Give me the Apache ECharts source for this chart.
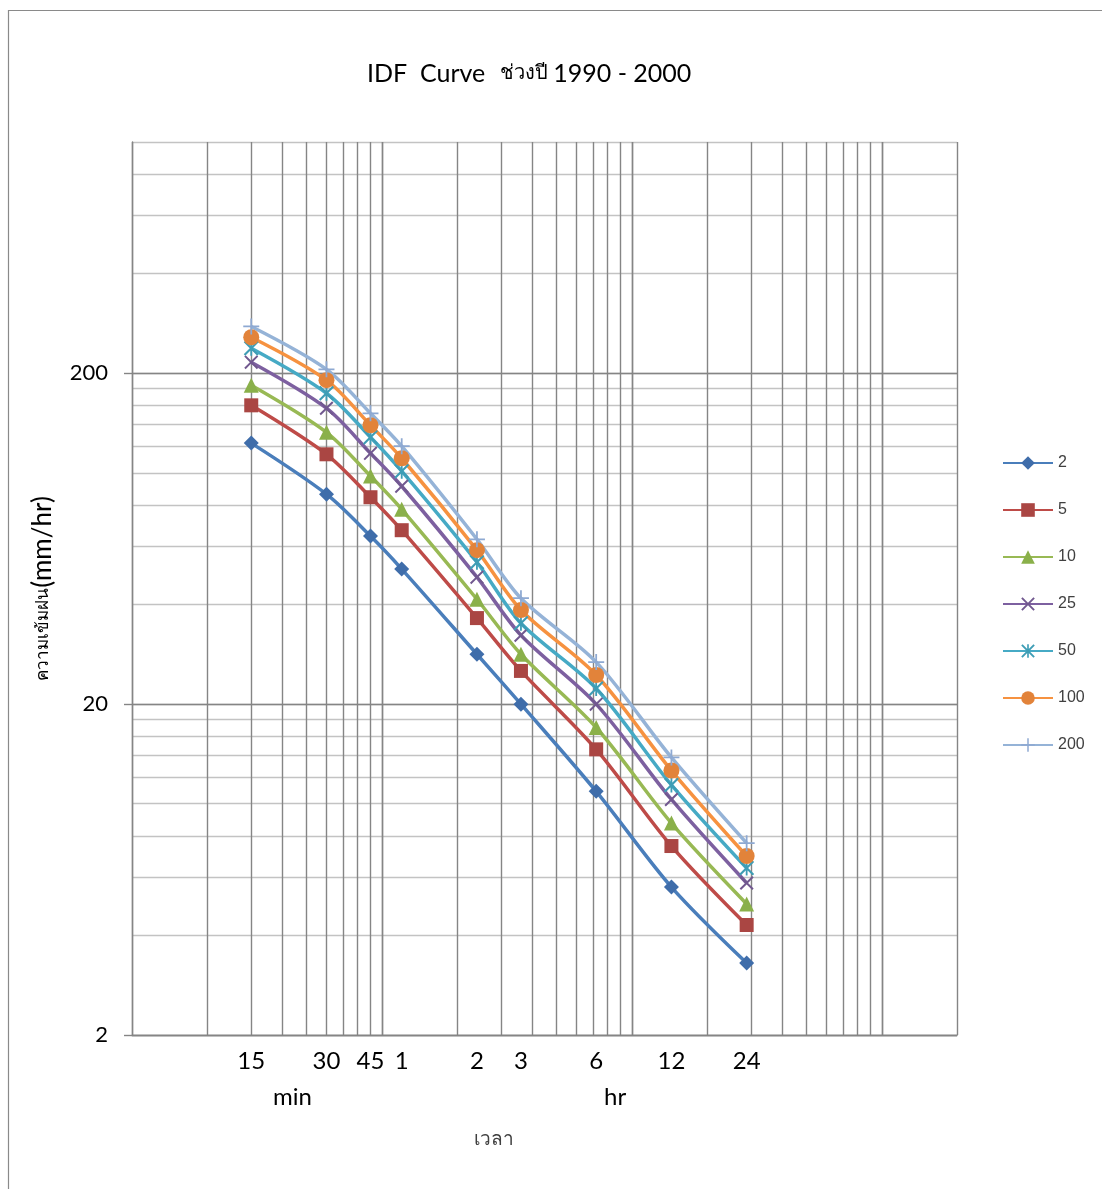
<!DOCTYPE html>
<html>
<head>
<meta charset="utf-8">
<script src="https://cdn.jsdelivr.net/npm/echarts@6/dist/echarts.min.js"></script>
<style>
  html, body { margin: 0; padding: 0; background: #fff; }
  #chart { width: 1102px; height: 1189px; }
</style>
</head>
<body>
<div id="chart"></div>
<script>
// duration in minutes (x), intensity mm/hr (y) per return period
var durations = [15, 30, 45, 60, 120, 180, 360, 720, 1440];
var durationLabels = ['15', '30', '45', '1', '2', '3', '6', '12', '24'];
var returnPeriods = ['2', '5', '10', '25', '50', '100', '200'];

var t2   = [123, 86.2, 64.4, 51.2, 28.3, 20.0, 10.9, 5.6, 3.3];
var t5   = [160, 113.8, 84.4, 67.1, 36.4, 25.2, 14.6, 7.45, 4.3];
var t10  = [184, 132.6, 97.8, 77.6, 41.5, 28.3, 17.0, 8.74, 4.98];
var t25  = [216, 156.8, 114.6, 91.1, 48.4, 32.3, 20.0, 10.3, 5.76];
var t50  = [238, 174, 128.2, 101.2, 53.7, 35.1, 22.3, 11.4, 6.39];
var t100 = [257, 190.6, 139.3, 110.7, 58.4, 38.5, 24.5, 12.6, 6.95];
var t200 = [277, 205.6, 151.4, 120.4, 63, 41.8, 26.8, 13.8, 7.6];

var yMajorTicks = [2, 20, 200];

// grid lines: x at every 5*10^k step, y at every 2*10^k step
var xGrid = [];
[5, 50, 500, 5000].forEach(function (b) {
  for (var i = 1; i <= 10; i++) { if (b * i <= 10000) xGrid.push(b * i); }
});
var yGrid = [];
[2, 20, 200].forEach(function (b) {
  for (var i = 1; i <= 9; i++) { yGrid.push(b * i); }
});
yGrid = yGrid.filter(function (v) { return v <= 1000; });

var lineColors   = ['#4A7EBB', '#BE4B48', '#98B954', '#7D60A0', '#46AAC5', '#F69240', '#95B3D7'];
var markerColors = ['#3F6DAA', '#AA4643', '#8AB04A', '#71588F', '#3E9DB5', '#E2833A', '#8EA9D2'];
var symbols = [
  'diamond', 'rect', 'triangle',
  'path://M0,1 L1,0 L5,4 L9,0 L10,1 L6,5 L10,9 L9,10 L5,6 L1,10 L0,9 L4,5 Z',
  'path://M0,1 L1,0 L5,4 L9,0 L10,1 L6,5 L10,9 L9,10 L5,6 L1,10 L0,9 L4,5 Z M4.4,0 L5.6,0 L5.6,10 L4.4,10 Z',
  'circle',
  'path://M4.45,0 L5.55,0 L5.55,4.45 L10,4.45 L10,5.55 L5.55,5.55 L5.55,10 L4.45,10 L4.45,5.55 L0,5.55 L0,4.45 L4.45,4.45 Z'
];
var symbolSizes = [15, 14, 15, 14, 15, 16, 16];
var allSeries = [t2, t5, t10, t25, t50, t100, t200];

var chart = echarts.init(document.getElementById('chart'));

var series = allSeries.map(function (vals, i) {
  return {
    name: returnPeriods[i],
    type: 'line',
    xAxisIndex: 0,
    yAxisIndex: 1,
    smooth: 0.3,
    symbol: symbols[i],
    symbolSize: symbolSizes[i],
    lineStyle: { width: 3.5, color: lineColors[i] },
    itemStyle: { color: markerColors[i] },
    data: durations.map(function (d, j) { return [d, vals[j]]; })
  };
});

var option = {
  backgroundColor: '#fff',
  animation: false,
  graphic: [
    { type: 'rect', shape: { x: 8.5, y: 10.5, width: 1200, height: 1300 },
      style: { fill: null, stroke: '#8a8a8a', lineWidth: 1.2 }, silent: true },
    { type: 'text', left: 273, top: 1085,
      style: { text: 'min', font: '24px Lato', fill: '#000' } },
    { type: 'text', left: 604, top: 1085,
      style: { text: 'hr', font: '24px Lato', fill: '#000' } },
    { type: 'text', left: 474, top: 1130,
      style: { text: 'เวลา', font: '19px sans-serif', fill: '#404040' } }
  ],
  title: {
    text: '{a|IDF  Curve}   {b|ช่วงปี} {a|1990 - 2000}',
    left: 362,
    top: 56,
    textStyle: {
      fontWeight: 'normal',
      rich: {
        a: { fontFamily: 'Lato', fontSize: 25, fontWeight: 'normal', color: '#000' },
        b: { fontSize: 20, fontWeight: 'normal', color: '#000' }
      }
    }
  },
  legend: {
    orient: 'vertical',
    left: 997,
    top: 450,
    itemWidth: 50,
    itemHeight: 17,
    itemGap: 31,
    textStyle: { fontFamily: 'Liberation Sans', fontSize: 16, color: '#404040' },
    data: returnPeriods
  },
  grid: { left: 132, right: 145, top: 142, bottom: 154, containLabel: false },
  xAxis: [{
    type: 'log',
    min: 5,
    max: 10000,
    axisLine: { show: true, lineStyle: { color: '#858585', width: 1.4 } },
    axisTick: { show: false, customValues: xGrid },
    splitLine: { show: true, lineStyle: { color: '#858585', width: 1.4 } },
    axisLabel: {
      customValues: durations,
      margin: 14,
      fontFamily: 'Lato',
      fontSize: 24,
      color: '#000',
      formatter: function (v) {
        var k = durations.indexOf(Math.round(v));
        return k >= 0 ? durationLabels[k] : '';
      }
    }
  }],
  yAxis: [{
    type: 'log',
    position: 'left',
    offset: 0,
    min: 2,
    max: 1000,
    axisLine: { show: false },
    axisTick: { show: false, customValues: yGrid },
    axisLabel: { show: false },
    splitLine: { show: true, lineStyle: { color: '#c3c3c3', width: 1.4 } }
  }, {
    type: 'log',
    position: 'left',
    offset: 0,
    min: 2,
    max: 1000,
    name: '{t|ความเข้มฝน}{l|(mm/hr)}',
    nameLocation: 'middle',
    nameGap: 76,
    nameRotate: 90,
    nameTextStyle: {
      rich: {
        t: { fontSize: 17, color: '#000' },
        l: { fontFamily: 'Lato', fontSize: 26, color: '#000' }
      }
    },
    axisLine: { show: true, lineStyle: { color: '#858585', width: 1.4 } },
    axisTick: { show: true, length: 8, customValues: yMajorTicks, lineStyle: { color: '#858585', width: 1.4 } },
    axisLabel: {
      customValues: yMajorTicks,
      margin: 24,
      fontFamily: 'Lato',
      fontSize: 22,
      color: '#000'
    },
    splitLine: { show: true, lineStyle: { color: '#858585', width: 1.4 } }
  }],
  series: series
};

chart.setOption(option);
</script>
</body>
</html>
